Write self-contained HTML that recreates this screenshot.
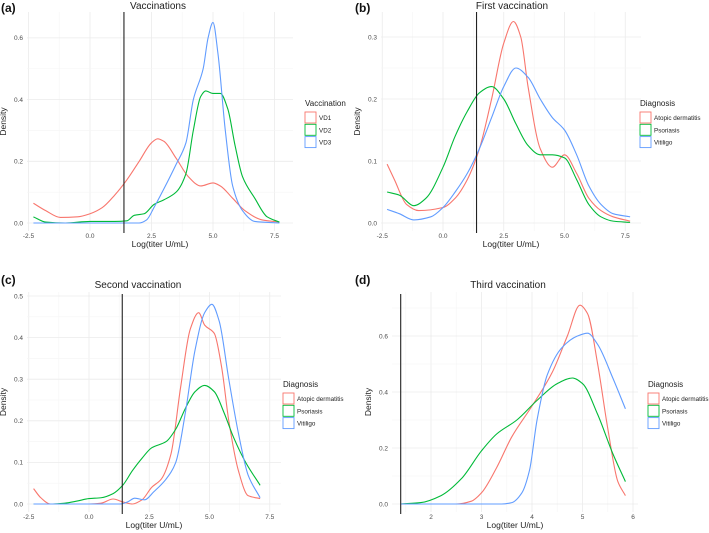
<!DOCTYPE html>
<html><head><meta charset="utf-8"><style>
body{margin:0;background:#fff;font-family:"Liberation Sans",sans-serif}
svg{display:block}
</style></head><body>
<svg id="fig" width="709" height="533" viewBox="0 0 709 533"></svg>
<script>
const NS="http://www.w3.org/2000/svg";
const colors=["#F8766D","#00BA38","#619CFF"];
// ---- data ----
const aTitle="Vaccinations";
const aLegendTitle="Vaccination";
const aSeriesNames=["VD1","VD2","VD3"];
const aXTicks=[-2.5,0,2.5,5,7.5];
const aXTickLabels=["-2.5","0.0","2.5","5.0","7.5"];
const aYTicks=[0,0.2,0.4,0.6];
const aYTickLabels=["0.0","0.2","0.4","0.6"];
const aVD1X=[-2.3,-1.8,-1.2,-0.5,0,0.5,1,1.5,2,2.5,2.75,3,3.5,4,4.5,5,5.3,5.8,6.3,7,7.7];
const aVD1Y=[0.064,0.04,0.018,0.02,0.03,0.05,0.09,0.14,0.2,0.26,0.273,0.265,0.21,0.15,0.12,0.13,0.12,0.08,0.04,0.01,0.003];
const aVD2X=[-2.3,-1.8,-1,0,1,1.5,1.8,2.2,2.6,3,3.5,3.9,4.2,4.5,4.7,5,5.3,5.6,5.9,6.2,6.7,7.2,7.7];
const aVD2Y=[0.02,0.003,0,0.005,0.005,0.007,0.025,0.03,0.06,0.075,0.1,0.16,0.3,0.41,0.428,0.42,0.42,0.37,0.25,0.15,0.08,0.02,0.003];
const aVD3X=[-2.3,2.0,2.3,2.6,3,3.5,3.9,4.2,4.6,4.8,5,5.2,5.5,5.8,6.2,6.7,7.7];
const aVD3Y=[0,0,0.01,0.05,0.11,0.19,0.26,0.4,0.5,0.6,0.65,0.55,0.3,0.12,0.04,0.005,0];

const diagNames=["Atopic dermatitis","Psoriasis","Vitiligo"];
const bTitle="First vaccination";
const bYTicks=[0,0.1,0.2,0.3];
const bYTickLabels=["0.0","0.1","0.2","0.3"];
const bAtoX=[-2.3,-2,-1.5,-1,0,0.5,1,1.5,2,2.5,2.9,3.2,3.5,4,4.5,5,5.5,6,6.5,7,7.7];
const bAtoY=[0.095,0.07,0.03,0.02,0.025,0.04,0.07,0.12,0.2,0.29,0.325,0.3,0.22,0.12,0.09,0.11,0.08,0.04,0.02,0.01,0.003];
const bPsoX=[-2.3,-1.8,-1.2,-0.7,0,0.5,1,1.5,2,2.5,3,3.5,4,4.5,5,5.5,6,6.5,7,7.7];
const bPsoY=[0.05,0.045,0.028,0.04,0.09,0.14,0.18,0.21,0.22,0.2,0.16,0.125,0.11,0.11,0.105,0.07,0.03,0.01,0.003,0.001];
const bVitX=[-2.3,-1.8,-1.2,-0.5,0,0.5,1,1.5,2,2.5,3,3.5,4,4.5,5,5.5,6,6.5,7,7.7];
const bVitY=[0.022,0.015,0.005,0.01,0.025,0.05,0.08,0.12,0.17,0.22,0.25,0.235,0.2,0.17,0.15,0.11,0.06,0.03,0.015,0.01];

const cTitle="Second vaccination";
const cYTicks=[0,0.1,0.2,0.3,0.4,0.5];
const cYTickLabels=["0.0","0.1","0.2","0.3","0.4","0.5"];
const cAtoX=[-2.3,-2,-1.6,0,0.5,1,1.4,1.8,2.2,2.6,3,3.4,3.8,4.2,4.55,4.8,5.2,5.5,5.8,6.2,6.6,7.1];
const cAtoY=[0.037,0.015,0,0,0.002,0.012,0.005,0,0.01,0.04,0.06,0.12,0.28,0.42,0.46,0.43,0.41,0.33,0.2,0.08,0.02,0.013];
const cPsoX=[-2.3,-1.5,-1,-0.5,0,0.5,1,1.4,1.8,2.2,2.6,3.2,3.6,4,4.4,4.8,5.2,5.6,6,6.5,7.1];
const cPsoY=[0,0,0.002,0.007,0.013,0.015,0.025,0.045,0.08,0.11,0.135,0.15,0.18,0.23,0.27,0.285,0.27,0.22,0.16,0.1,0.045];
const cVitX=[-2.3,1.3,1.6,1.9,2.3,2.7,3.2,3.6,4,4.4,4.8,5.1,5.4,5.8,6.2,6.6,7.1];
const cVitY=[0,0,0.005,0.014,0.01,0.03,0.06,0.1,0.22,0.37,0.46,0.48,0.44,0.3,0.17,0.07,0.015];

const dTitle="Third vaccination";
const dXTicks=[2,3,4,5,6];
const dXTickLabels=["2","3","4","5","6"];
const dYTicks=[0,0.2,0.4,0.6];
const dYTickLabels=["0.0","0.2","0.4","0.6"];
const dAtoX=[1.4,2.5,2.8,3.0,3.3,3.6,4,4.4,4.7,4.95,5.1,5.3,5.5,5.7,5.85];
const dAtoY=[0,0,0.01,0.04,0.13,0.24,0.35,0.47,0.6,0.71,0.68,0.5,0.27,0.08,0.03];
const dPsoX=[1.4,1.8,2.2,2.6,3.0,3.3,3.7,4.1,4.5,4.8,5.0,5.3,5.6,5.85];
const dPsoY=[0,0.005,0.03,0.09,0.19,0.25,0.3,0.37,0.43,0.45,0.43,0.32,0.18,0.08];
const dVitX=[1.4,3.4,3.6,3.8,3.95,4.1,4.3,4.6,4.9,5.1,5.3,5.6,5.85];
const dVitY=[0,0,0.005,0.04,0.12,0.3,0.46,0.56,0.6,0.61,0.57,0.45,0.34];

const cutoff=1.38;

function el(tag,attrs,parent){const e=document.createElementNS(NS,tag);for(const k in attrs)e.setAttribute(k,attrs[k]);(parent||svg).appendChild(e);return e;}
const svg=document.getElementById('fig');

// monotone cubic (Fritsch-Carlson) path
function smooth(pts){
  const n=pts.length, dx=[], m=[], t=[];
  for(let i=0;i<n-1;i++){dx[i]=pts[i+1][0]-pts[i][0];m[i]=(pts[i+1][1]-pts[i][1])/dx[i];}
  t[0]=m[0];t[n-1]=m[n-2];
  for(let i=1;i<n-1;i++){
    if(m[i-1]*m[i]<=0) t[i]=0;
    else{const w1=2*dx[i]+dx[i-1],w2=dx[i]+2*dx[i-1];t[i]=(w1+w2)/(w1/m[i-1]+w2/m[i]);}
  }
  let d="M"+pts[0][0].toFixed(2)+","+pts[0][1].toFixed(2);
  for(let i=0;i<n-1;i++){
    const h=dx[i]/3;
    d+="C"+(pts[i][0]+h).toFixed(2)+","+(pts[i][1]+t[i]*h).toFixed(2)+" "+(pts[i+1][0]-h).toFixed(2)+","+(pts[i+1][1]-t[i+1]*h).toFixed(2)+" "+pts[i+1][0].toFixed(2)+","+pts[i+1][1].toFixed(2);
  }
  return d;
}

function panel(cfg){
  const g=el('g',{});
  
  
  const sx=v=>cfg.x0+v*cfg.kx, sy=v=>cfg.y0-v*cfg.ky;
  const xt=cfg.xt, yt=cfg.yt;
  const xs=xt[1]-xt[0], ys=yt[1]-yt[0];
  for(let v=xt[0]-xs/2; v<=xt[xt.length-1]+xs/2+1e-9; v+=xs/2){
    const px=sx(v); if(px<cfg.L||px>cfg.R) continue;
    const major=Math.abs(((v-xt[0])/xs)-Math.round((v-xt[0])/xs))<1e-6;
    const l=el('line',{x1:px,x2:px,y1:cfg.T,y2:cfg.B,stroke:major?"#ebebeb":"#f5f5f5","stroke-width":major?0.8:0.6},g);
    
  }
  for(let v=yt[0]-ys/2; v<=yt[yt.length-1]+ys/2+1e-9; v+=ys/2){
    const py=sy(v); if(py<cfg.T||py>cfg.B) continue;
    const major=Math.abs(((v-yt[0])/ys)-Math.round((v-yt[0])/ys))<1e-6;
    const l=el('line',{x1:cfg.L,x2:cfg.R,y1:py,y2:py,stroke:major?"#ebebeb":"#f5f5f5","stroke-width":major?0.8:0.6},g);
    
  }
  xt.forEach((v,i)=>{const t=el('text',{x:sx(v),y:cfg.B+7,"font-size":6.5,fill:"#4d4d4d","text-anchor":"middle"},g);t.textContent=cfg.xl[i];
    });
  yt.forEach((v,i)=>{const t=el('text',{x:cfg.L-4,y:sy(v)+2.3,"font-size":6.5,fill:"#4d4d4d","text-anchor":"end"},g);t.textContent=cfg.yl[i];
    });
  let t=el('text',{x:(cfg.L+cfg.R)/2,y:cfg.B+16,"font-size":8.5,fill:"#222","text-anchor":"middle"},g);t.textContent="Log(titer U/mL)";
  
  const cy=(cfg.T+cfg.B)/2, dxp=cfg.L-21;
  t=el('text',{x:dxp,y:cy,"font-size":8.5,fill:"#222","text-anchor":"middle",transform:`rotate(-90 ${dxp} ${cy})`},g);t.textContent="Density";
  
  t=el('text',{x:cfg.titleX,y:cfg.titleY,"font-size":10,fill:"#222","text-anchor":"middle"},g);t.textContent=cfg.title;
  
  t=el('text',{x:cfg.tagX,y:cfg.tagY,"font-size":12,"font-weight":"bold",fill:"#111"},g);t.textContent=cfg.tag;
  
  cfg.series.forEach((s,i)=>{
    const pts=s[0].map((x,j)=>[sx(x),sy(s[1][j])]);
    const p=el('path',{d:smooth(pts),fill:"none",stroke:colors[i],"stroke-width":1.1},g);
    
    
  });
  const cx=sx(cfg.cut);
  const vl=el('line',{x1:cx,x2:cx,y1:cfg.vT,y2:cfg.vB,stroke:"#222","stroke-width":1.1},g);
  
  t=el('text',{x:cfg.lx,y:cfg.ly,"font-size":8,fill:"#222"},g);t.textContent=cfg.legTitle;
  
  cfg.names.forEach((n,i)=>{
    const yy=cfg.ly+6+i*12.3;
    const r=el('rect',{x:cfg.lx,y:yy,width:11,height:11,fill:"#fff",stroke:colors[i],"stroke-width":0.9},g);
    
    const tt=el('text',{x:cfg.lx+14,y:yy+8,"font-size":6.3,fill:"#222"},g);tt.textContent=n;
    
  });
}

panel({name:'panel-a',tag:'(a)',tagX:1,tagY:12,title:aTitle,titleX:158,titleY:9,
  x0:90,kx:24.6,y0:223,ky:308.5,L:27,R:293,T:12,B:231,vT:12,vB:233,
  xt:aXTicks,xl:aXTickLabels,yt:aYTicks,yl:aYTickLabels,cut:cutoff,
  series:[[aVD1X,aVD1Y],[aVD2X,aVD2Y],[aVD3X,aVD3Y]],names:aSeriesNames,legTitle:aLegendTitle,lx:305,ly:106});
panel({name:'panel-b',tag:'(b)',tagX:355,tagY:12,title:bTitle,titleX:512,titleY:9,
  x0:443,kx:24.3,y0:223,ky:620,L:381,R:641,T:12,B:231,vT:12,vB:233,
  xt:aXTicks,xl:aXTickLabels,yt:bYTicks,yl:bYTickLabels,cut:cutoff,
  series:[[bAtoX,bAtoY],[bPsoX,bPsoY],[bVitX,bVitY]],names:diagNames,legTitle:"Diagnosis",lx:640,ly:106});
panel({name:'panel-c',tag:'(c)',tagX:1,tagY:284,title:cTitle,titleX:138,titleY:288,
  x0:89,kx:24.1,y0:504,ky:416,L:27,R:281,T:292,B:512,vT:294,vB:514,
  xt:aXTicks,xl:aXTickLabels,yt:cYTicks,yl:cYTickLabels,cut:cutoff,
  series:[[cAtoX,cAtoY],[cPsoX,cPsoY],[cVitX,cVitY]],names:diagNames,legTitle:"Diagnosis",lx:283,ly:387});
panel({name:'panel-d',tag:'(d)',tagX:355,tagY:284,title:dTitle,titleX:508,titleY:288,
  x0:330,kx:50.5,y0:504,ky:280,L:392,R:638,T:292,B:512,vT:294,vB:514,
  xt:dXTicks,xl:dXTickLabels,yt:dYTicks,yl:dYTickLabels,cut:1.4,
  series:[[dAtoX,dAtoY],[dPsoX,dPsoY],[dVitX,dVitY]],names:diagNames,legTitle:"Diagnosis",lx:648,ly:387});
</script>
</body></html>
